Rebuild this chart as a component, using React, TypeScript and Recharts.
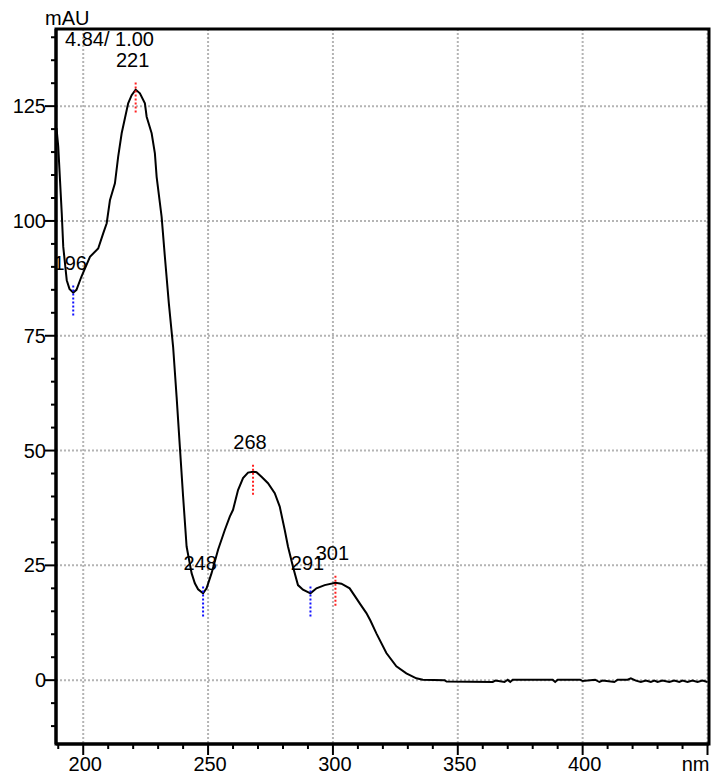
import React from 'react';
import {
  LineChart, Line, XAxis, YAxis, CartesianGrid, ReferenceDot, ReferenceArea,
} from 'recharts';

// spektrum (nm / mAU)
const wavelengths = [
  189.3, 190.0, 190.7, 191.4, 192.0, 193.4, 194.5, 196.0, 197.3, 199.3,
  202.7, 206.0, 208.0, 209.4, 210.7, 212.7, 214.0, 215.4, 218.0, 219.4,
  221.0, 222.7, 224.7, 225.4, 227.4, 228.7, 229.4, 231.4, 232.7, 234.3,
  236.0, 237.4, 238.7, 240.0, 241.4, 243.4, 244.7, 246.0, 248.0, 249.4,
  251.4, 254.0, 256.7, 258.7, 260.0, 262.0, 264.0, 266.0, 268.0, 269.4,
  271.4, 274.0, 276.7, 278.7, 280.7, 282.0, 284.0, 286.0, 288.0, 291.0,
  293.4, 296.7, 301.0, 303.4, 306.7, 309.4, 311.0, 313.4, 315.0, 317.4,
  321.4, 325.4, 329.4, 333.4, 336.0, 344.7, 345.5, 364.0, 365.0, 368.7,
  370.0, 371.0, 372.0, 388.0, 389.0, 390.0, 399.0, 400.0, 405.0, 406.7,
  408.0, 412.7, 414.0, 418.0, 419.3, 421.3, 423.3, 425.3, 427.3, 428.7,
  430.0, 432.0, 434.7, 436.7, 438.7, 440.0, 442.0, 444.0, 446.0, 448.0,
  450.0,
];
const absorbance = [
  120.2, 116.2, 108.9, 101.7, 94.4, 87.1, 85.2, 84.4, 85.0, 87.9,
  92.2, 94.0, 97.3, 99.5, 104.5, 108.2, 114.0, 119.1, 125.6, 127.4,
  128.6, 127.8, 125.6, 122.7, 119.1, 114.7, 109.6, 100.9, 92.2, 82.0,
  72.6, 61.7, 50.8, 40.0, 29.1, 23.3, 21.1, 19.8, 18.9, 20.0,
  23.3, 28.4, 32.7, 35.6, 37.1, 41.4, 44.0, 45.2, 45.4, 45.3,
  44.3, 42.9, 40.7, 37.8, 32.7, 29.1, 24.7, 20.7, 19.7, 18.9,
  20.0, 20.7, 21.2, 21.0, 20.0, 17.8, 16.5, 14.6, 13.0, 10.2,
  5.9, 3.0, 1.5, 0.4, 0.1, 0.0, -0.3, -0.4, -0.1, -0.4,
  0.1, -0.4, 0.1, 0.1, -0.4, 0.1, 0.1, -0.2, 0.1, -0.4,
  -0.1, -0.4, 0.1, 0.1, 0.4, -0.1, -0.4, -0.1, -0.4, -0.1,
  -0.4, -0.1, -0.4, -0.1, -0.4, -0.1, -0.4, -0.1, -0.4, -0.1,
  -0.4,
];

const peakNm = [221, 268, 301];
const peakAbs = [128.6, 45.4, 21.2];
const valleyNm = [196, 248, 291];
const valleyAbs = [84.4, 18.9, 18.9];

const xTicks = [190, 200, 210, 220, 230, 240, 250, 260, 270, 280, 290, 300, 310, 320, 330, 340, 350, 360, 370, 380, 390, 400, 410, 420, 430, 440, 450];
const yTicks = [-10, -5, 0, 5, 10, 15, 20, 25, 30, 35, 40, 45, 50, 55, 60, 65, 70, 75, 80, 85, 90, 95, 100, 105, 110, 115, 120, 125, 130, 135, 140];
const xGrid = [200, 250, 300, 350, 400, 450];
const yGrid = [0, 25, 50, 75, 100, 125];

const X_DOMAIN: [number, number] = [189.1, 450.6];
const Y_DOMAIN: [number, number] = [-13.9, 141.8];

const FONT = '"Liberation Sans", Arial, sans-serif';
const FS = 20;

const data = wavelengths.map((nm, i) => ({ nm, abs: absorbance[i] }));

const XTick = ({ x, y, payload }: any) => {
  const v = payload.value;
  const major = v % 50 === 0;
  const last = v === 450;
  return (
    <g>
      <line x1={x} y1={y} x2={x} y2={y + (major ? 11 : 5)} stroke="#000" strokeWidth={2} />
      {major && (
        <text x={x + 2} y={y + 27} textAnchor={last ? 'end' : 'middle'}
          fontSize={FS} fontFamily={FONT} fill="#000">
          {last ? 'nm' : v}
        </text>
      )}
    </g>
  );
};

const YTick = ({ x, y, payload }: any) => {
  const v = payload.value;
  const major = v % 25 === 0;
  return (
    <g>
      <line x1={x} y1={y} x2={x - (major ? 11 : 5)} y2={y} stroke="#000" strokeWidth={2} />
      {major && (
        <text x={x - 10} y={y + 7} textAnchor="end" fontSize={FS} fontFamily={FONT} fill="#000">
          {v}
        </text>
      )}
    </g>
  );
};

// gestrichelte Markierung + Beschriftung an Max/Min
const marker = (label: number, color: string) => (props: any) => {
  const { cx, cy } = props;
  return (
    <g>
      <line x1={cx} y1={cy - 7} x2={cx} y2={cy + 23} stroke={color} strokeWidth={2} strokeDasharray="2 2" />
      <text x={cx - 3} y={cy - 23} textAnchor="middle" fontSize={FS} fontFamily={FONT} fill="#000">
        {label}
      </text>
    </g>
  );
};

export default function App() {
  return (
    <div style={{ position: 'absolute', left: 0, top: 0, width: 717, height: 776, background: '#fff' }}>
      <LineChart width={717} height={776} data={data} margin={{ top: 29, right: 8, left: 0, bottom: 0 }}>
        <CartesianGrid horizontalValues={yGrid} verticalValues={xGrid}
          stroke="#b4b4b4" strokeWidth={2} strokeDasharray="2 2" />
        <XAxis dataKey="nm" type="number" domain={X_DOMAIN} allowDataOverflow ticks={xTicks}
          height={32} tickSize={0} tickMargin={0} tickLine={false} interval={0}
          axisLine={{ stroke: '#000', strokeWidth: 3 }} tick={<XTick />} />
        <YAxis type="number" domain={Y_DOMAIN} allowDataOverflow ticks={yTicks}
          width={56} tickSize={0} tickMargin={0} tickLine={false} interval={0}
          axisLine={{ stroke: '#000', strokeWidth: 3 }} tick={<YTick />} />
        <ReferenceArea x1={X_DOMAIN[0]} x2={X_DOMAIN[1]} y1={Y_DOMAIN[0]} y2={Y_DOMAIN[1]}
          fill="none" fillOpacity={0} stroke="#000" strokeWidth={3} ifOverflow="visible" />
        <Line type="linear" dataKey="abs" stroke="#000" strokeWidth={2} dot={false}
          activeDot={false} isAnimationActive={false} />
        {peakNm.map((nm, i) => (
          <ReferenceDot key={'p' + nm} x={nm} y={peakAbs[i]} r={0} shape={marker(nm, '#ff2020')} />
        ))}
        {valleyNm.map((nm, i) => (
          <ReferenceDot key={'v' + nm} x={nm} y={valleyAbs[i]} r={0} shape={marker(nm, '#1010ff')} />
        ))}
        <text x={45} y={25} fontSize={FS} fontFamily={FONT} fill="#000">mAU</text>
        <text x={65} y={46} fontSize={FS} fontFamily={FONT} fill="#000">4.84/ 1.00</text>
      </LineChart>
    </div>
  );
}
